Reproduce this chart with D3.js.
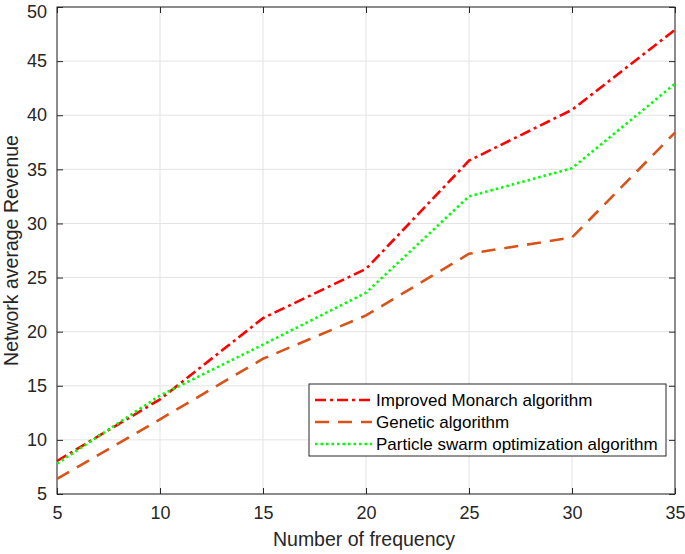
<!DOCTYPE html>
<html>
<head>
<meta charset="utf-8">
<script src="https://cdn.jsdelivr.net/npm/d3@7"></script>
<style>
  body { margin: 0; background: #fff; }
  svg { font-family: "Liberation Sans", Arial, sans-serif; }
</style>
</head>
<body>
<div id="chart"></div>
<script>
// data
const frequency = [5, 10, 15, 20, 25, 30, 35];
const monarch = [8.05, 13.75, 21.25, 25.8, 35.8, 40.5, 47.9];
const genetic = [6.4, 11.9, 17.5, 21.5, 27.2, 28.7, 38.4];
const pso = [7.8, 14.1, 18.8, 23.6, 32.5, 35.1, 42.9];
const xTicks = [5, 10, 15, 20, 25, 30, 35];
const yTicks = [5, 10, 15, 20, 25, 30, 35, 40, 45, 50];

const series = [
    {name: "Improved Monarch algorithm", values: monarch, color: "#ff0000", dash: "11,4,3,4"},
    {name: "Genetic algorithm", values: genetic, color: "#d95319", dash: "14,9"},
    {name: "Particle swarm optimization algorithm", values: pso, color: "#00ff00", dash: "2.5,3"}
];

const width = 685, height = 554;
const margin = {top: 7, right: 10, bottom: 60, left: 57};
const innerW = width - margin.left - margin.right;
const innerH = height - margin.top - margin.bottom;

const svg = d3.select("#chart").append("svg")
    .attr("width", width).attr("height", height);

const g = svg.append("g").attr("transform", `translate(${margin.left},${margin.top})`);

const x = d3.scaleLinear().domain([5, 35]).range([0, innerW]);
const y = d3.scaleLinear().domain([5, 50]).range([innerH, 0]);

// grid
g.append("g").selectAll("line").data(xTicks).join("line")
    .attr("x1", d => x(d)).attr("x2", d => x(d))
    .attr("y1", 0).attr("y2", innerH)
    .attr("stroke", "#e3e3e3").attr("stroke-width", 1);
g.append("g").selectAll("line").data(yTicks).join("line")
    .attr("y1", d => y(d)).attr("y2", d => y(d))
    .attr("x1", 0).attr("x2", innerW)
    .attr("stroke", "#e3e3e3").attr("stroke-width", 1);

const tickStyle = sel => {
    sel.select(".domain").remove();
    sel.selectAll(".tick line").attr("stroke", "#262626").attr("stroke-width", 1);
    sel.selectAll(".tick text").attr("fill", "#262626").attr("font-size", "18px")
        .attr("font-family", "Liberation Sans, Arial, sans-serif");
};

g.append("g").attr("transform", `translate(0,${innerH})`)
    .call(d3.axisBottom(x).tickValues(xTicks).tickSize(-6).tickPadding(12).tickFormat(d3.format("d")))
    .call(tickStyle);
const yAxis = g.append("g")
    .call(d3.axisLeft(y).tickValues(yTicks).tickSize(-6).tickPadding(10).tickFormat(d3.format("d")))
    .call(tickStyle);
// keep the top label inside the picture
yAxis.selectAll(".tick text").filter(d => d === 50).attr("dy", "0.6em");
g.append("g")
    .call(d3.axisTop(x).tickValues(xTicks).tickSize(-6).tickFormat(""))
    .call(tickStyle);
g.append("g").attr("transform", `translate(${innerW},0)`)
    .call(d3.axisRight(y).tickValues(yTicks).tickSize(-6).tickFormat(""))
    .call(tickStyle);

// box
g.append("rect").attr("width", innerW).attr("height", innerH)
    .attr("fill", "none").attr("stroke", "#262626").attr("stroke-width", 1);

// lines
const line = d3.line().x((d, i) => x(frequency[i])).y(d => y(d));
g.append("g").selectAll("path").data(series).join("path")
    .attr("d", d => line(d.values))
    .attr("fill", "none")
    .attr("stroke", d => d.color)
    .attr("stroke-width", 2.6)
    .attr("stroke-dasharray", d => d.dash);

// axis titles
svg.append("text")
    .attr("x", margin.left + innerW / 2 - 2).attr("y", 546)
    .attr("text-anchor", "middle").attr("font-size", "19.5px").attr("fill", "#262626")
    .text("Number of frequency");
svg.append("text")
    .attr("transform", `translate(18,${margin.top + innerH / 2}) rotate(-90)`)
    .attr("text-anchor", "middle").attr("font-size", "19.5px").attr("fill", "#262626")
    .text("Network average Revenue");

// legend
const legend = svg.append("g").attr("transform", "translate(309,384)");
legend.append("rect").attr("width", 357).attr("height", 72)
    .attr("fill", "#fff").attr("stroke", "#262626").attr("stroke-width", 1);
const item = legend.selectAll("g.item").data(series).join("g")
    .attr("class", "item")
    .attr("transform", (d, i) => `translate(0,${16 + i * 22})`);
item.append("line")
    .attr("x1", 6).attr("x2", 63).attr("y1", 0).attr("y2", 0)
    .attr("stroke", d => d.color).attr("stroke-width", 2.6)
    .attr("stroke-dasharray", d => d.dash);
item.append("text")
    .attr("x", 67).attr("y", 0).attr("dy", "0.35em")
    .attr("font-size", "17px").attr("fill", "#000")
    .text(d => d.name);
</script>
</body>
</html>
